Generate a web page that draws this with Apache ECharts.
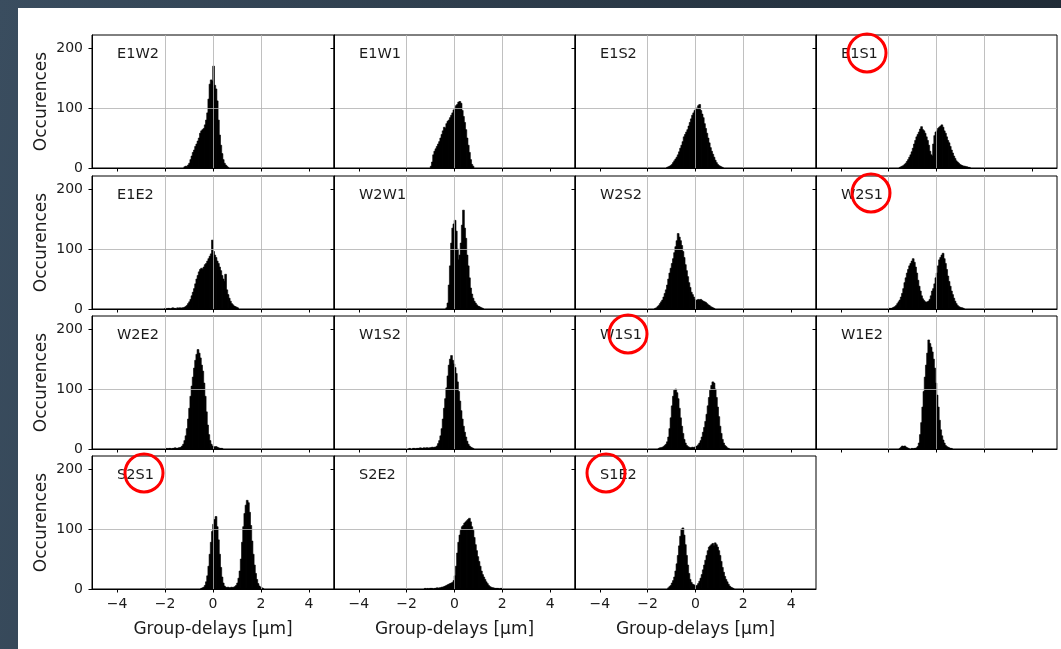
<!DOCTYPE html>
<html>
<head>
<meta charset="utf-8">
<script src="https://cdn.jsdelivr.net/npm/echarts@6/dist/echarts.min.js"></script>
<style>
html, body { margin: 0; padding: 0; width: 1061px; height: 649px; overflow: hidden;
  background: linear-gradient(100deg, #3a4d5f 0%, #2b3a48 50%, #1d2833 100%); }
#chart { position: absolute; left: 18px; top: 8px; width: 1043px; height: 641px; background: #fff; }
</style>
</head>
<body>
<div id="chart"></div>
<script>
// histogram bin width [um]
var binWidth = 0.05;
var panelNames = ['E1W2', 'E1W1', 'E1S2', 'E1S1',
                  'E1E2', 'W2W1', 'W2S2', 'W2S1',
                  'W2E2', 'W1S2', 'W1S1', 'W1E2',
                  'S2S1', 'S2E2', 'S1E2'];
// left edge of the first bin of each panel
var binStarts = [-1.20, -1.00, -1.20, -1.55,
                 -2.00, -0.35, -1.70, -2.00,
                 -1.95, -1.90, -1.55, -1.55,
                 -0.50, -1.25, -1.15];

var E1W2 = [2,3,2,5,8,14,20,26,30,36,40,45,50,58,62,64,66,72,80,92,115,140,147,145,170,138,132,112,80,55,38,24,14,8,5,3,1];
var E1W1 = [3,10,22,28,32,36,40,44,50,56,62,68,66,74,78,80,84,88,92,97,100,104,106,110,111,108,96,86,76,64,50,38,26,14,6,3];
var E1S2 = [1,2,3,4,6,9,12,15,18,22,27,33,38,44,52,56,60,64,70,76,82,88,92,96,100,98,104,106,96,90,84,74,66,58,50,42,34,28,23,18,13,9,6,4,3,2,1];
var E1S1 = [1,2,3,4,6,8,11,14,18,22,27,33,40,46,52,56,60,65,69,64,62,58,52,46,38,28,22,20,40,54,60,62,66,68,70,72,68,62,58,52,46,42,36,30,25,20,16,12,10,8,6,5,4,3,3,2,2,1,1];
var E1E2 = [1,0,1,1,0,1,2,1,1,0,2,1,2,1,2,2,
            3,4,6,9,12,16,22,28,34,42,50,56,62,66,68,66,70,74,76,80,84,88,92,115,96,90,86,80,76,70,64,56,50,46,58,32,24,18,13,9,7,5,4,3,2];
var W2W1 = [2,10,40,72,110,135,142,148,130,100,82,90,110,140,165,135,118,90,72,52,35,25,18,13,10,7,5,4,3,2,1];
var W2S2 = [1,2,4,6,9,12,15,20,26,32,40,50,60,68,76,84,94,104,114,126,120,114,106,96,86,74,64,54,44,36,28,24,20,16,14,15,16,15,16,14,13,12,11,9,7,6,4,3,2,1];
var W2S1 = [1,1,1,2,3,4,6,9,12,15,20,26,34,44,52,60,66,72,76,80,84,78,70,60,48,38,30,22,17,14,12,11,12,13,16,22,30,34,42,52,60,72,82,86,90,93,84,76,66,55,46,38,30,24,18,13,9,6,4,3,2,2,1];
var W2E2 = [1,0,1,1,0,1,1,2,1,1,2,2,
            3,5,8,14,22,34,50,68,88,105,120,135,148,158,166,160,152,140,130,110,88,62,40,24,14,8,5,4,3,4,3,2,1,1,1];
var W1S2 = [1,0,0,1,1,0,1,1,1,2,1,1,2,1,2,2,1,2,2,3,2,3,
            3,5,9,14,22,34,50,68,84,102,122,140,150,156,148,142,136,126,112,96,80,64,50,38,28,20,13,8,5,3,2,1];
var W1S1 = [1,2,2,3,4,6,8,12,20,34,52,72,88,98,100,94,84,68,52,38,26,16,10,6,4,3,2,2,3,2,3,4,5,7,10,14,20,28,36,46,58,72,86,98,106,112,110,100,86,70,54,38,26,16,10,6,4,2,1];
var W1E2 = [1,3,5,4,5,3,2,1,0,0,1,0,1,1,2,4,10,24,44,70,96,120,140,160,182,176,170,162,150,135,110,90,70,48,32,22,15,10,6,4,3,2,1,1];
var S2S1 = [1,2,3,6,12,22,38,58,78,96,108,116,121,104,82,58,36,20,10,5,3,2,3,2,2,3,2,3,4,6,10,18,30,50,78,104,126,140,148,144,128,106,80,58,40,26,16,9,5,3,2,1];
var S2E2 = [1,0,1,0,1,1,1,0,1,1,2,1,2,2,
            3,3,4,5,6,7,8,9,10,11,14,22,38,60,78,90,98,104,106,110,112,114,116,118,112,104,98,86,74,64,54,46,38,30,24,20,16,12,9,6,4,3,2,2,1,1,1,1,0,1,1];
var S1E2 = [2,4,6,10,14,20,30,42,56,72,88,100,102,90,74,56,40,26,16,11,8,7,6,5,6,9,13,18,24,32,40,48,56,64,70,72,74,76,72,77,74,70,64,56,46,36,28,21,16,12,8,5,3,2,1];

var counts = [E1W2, E1W1, E1S2, E1S1, E1E2, W2W1, W2S2, W2S1, W2E2, W1S2, W1S1, W1E2, S2S1, S2E2, S1E2];
var xTicks = [-4, -2, 0, 2, 4];
var yTicks = [0, 100, 200];

var FONT = 'DejaVu Sans';
var colLeft = [74, 316, 557, 798];
var rowTop = [27, 168, 308, 448];

var grids = [], xAxes = [], yAxes = [], series = [], titles = [];

panelNames.forEach(function (name, i) {
    var r = Math.floor(i / 4), c = i % 4;
    var showX = r === 3;
    grids.push({
        left: colLeft[c], top: rowTop[r], width: c === 0 ? 242 : 241, height: 133,
        show: true, borderColor: '#000', borderWidth: 1, backgroundColor: 'transparent'
    });
    xAxes.push({
        gridIndex: i, type: 'value', min: -5.04, max: 5.04, z: 5,
        axisLine: { show: true, onZero: false, lineStyle: { color: '#000', width: 1 } },
        axisTick: { show: true, length: 3.5, customValues: xTicks, lineStyle: { color: '#000' } },
        axisLabel: {
            show: showX, customValues: xTicks, margin: 8, fontSize: 14, color: '#1a1a1a', fontFamily: FONT,
            formatter: function (v) { return String(v).replace('-', '\u2212'); }
        },
        splitLine: { show: true, showMinLine: false, showMaxLine: false, lineStyle: { color: '#b0b0b0', width: 0.8 } },
        name: showX ? 'Group-delays [µm]' : '',
        nameLocation: 'middle', nameGap: 32,
        nameTextStyle: { fontSize: 17, color: '#1a1a1a', fontFamily: FONT }
    });
    yAxes.push({
        gridIndex: i, type: 'value', min: 0, max: 222, interval: 100, z: 5,
        axisLine: { show: true, onZero: false, lineStyle: { color: '#000', width: 1 } },
        axisTick: { show: true, length: 3.5, customValues: yTicks, lineStyle: { color: '#000' } },
        axisLabel: {
            show: c === 0, showMaxLabel: false, margin: 9, fontSize: 14, color: '#1a1a1a', fontFamily: FONT
        },
        splitLine: { show: true, showMinLine: false, showMaxLine: false, lineStyle: { color: '#b0b0b0', width: 0.8 } },
        name: c === 0 ? 'Occurences' : '',
        nameLocation: 'middle', nameGap: 42, nameRotate: 90,
        nameTextStyle: { fontSize: 17, color: '#1a1a1a', fontFamily: FONT }
    });
    titles.push({
        text: name, left: colLeft[c] + 25, top: rowTop[r] + 12, padding: 0,
        textStyle: { fontSize: 14.5, fontWeight: 'normal', color: '#1a1a1a', fontFamily: FONT }
    });
    var start = binStarts[i];
    series.push({
        type: 'custom', xAxisIndex: i, yAxisIndex: i, z: 2, silent: true,
        data: counts[i].map(function (v, k) { return [start + k * binWidth, v]; }),
        renderItem: function (params, api) {
            var x0 = api.value(0), h = api.value(1);
            if (!h) return null;
            var p0 = api.coord([x0, h]);
            var p1 = api.coord([x0 + binWidth, 0]);
            return {
                type: 'rect',
                shape: { x: p0[0] - 0.3, y: p0[1], width: p1[0] - p0[0] + 0.6, height: p1[1] - p0[1] },
                style: { fill: '#000', stroke: '#000', lineWidth: 0.6 }
            };
        }
    });
});

// hand-drawn red annotation circles
var circles = [[849, 45], [853, 185], [610, 326], [126, 465], [588, 465]].map(function (p) {
    return {
        type: 'circle', z: 100, shape: { cx: p[0], cy: p[1], r: 19 },
        style: { fill: 'none', stroke: '#f00', lineWidth: 3 }
    };
});

var myChart = echarts.init(document.getElementById('chart'));
myChart.setOption({
    animation: false,
    backgroundColor: '#fff',
    title: titles,
    grid: grids,
    xAxis: xAxes,
    yAxis: yAxes,
    series: series,
    graphic: circles
});
</script>
</body>
</html>
